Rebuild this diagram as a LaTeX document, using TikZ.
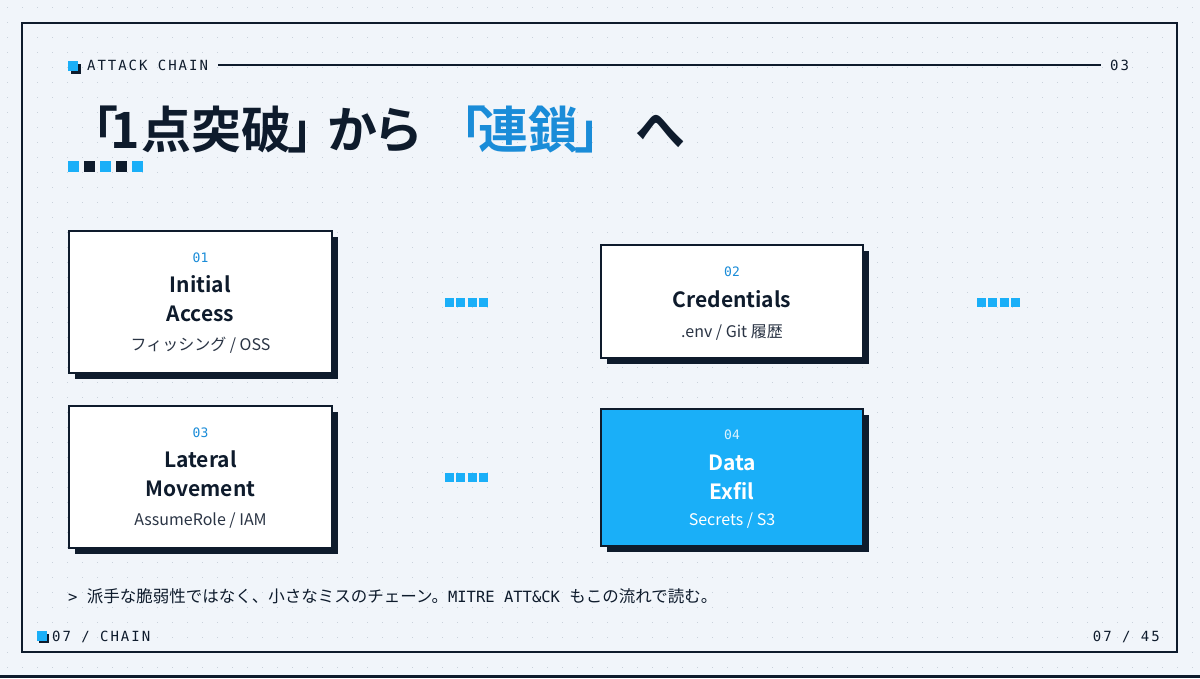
\documentclass[tikz,border=0pt]{standalone}
\usepackage{fontspec}
\setmainfont{Noto Sans CJK JP}[BoldFont={Noto Sans CJK JP Bold}]
\setmonofont{DejaVu Sans Mono}
\newfontfamily\monols{DejaVu Sans Mono}[LetterSpace=14]
\newfontfamily\titlefont{Noto Sans CJK JP Bold}[RawFeature=+palt]
\newfontfamily\cjk{Noto Sans CJK JP}
\usetikzlibrary{shadows}
\definecolor{navyc}{HTML}{0E1B2C}
\definecolor{accent}{HTML}{1AAFF8}
\definecolor{accentd}{HTML}{1A8CD8}
\definecolor{bgc}{HTML}{F1F5FA}
\definecolor{dotc}{HTML}{C9D1DB}
\definecolor{subc}{HTML}{2A3444}
\newcommand{\tch}[2]{\makebox[#1pt][l]{#2}}
\tikzset{
  stepbox/.style={draw=navyc, line width=2pt, fill=white, inner sep=0pt,
    drop shadow={shadow xshift=6pt, shadow yshift=-6pt, fill=navyc, opacity=1}},
  hotbox/.style={stepbox, fill=accent},
  numtxt/.style={anchor=base, inner sep=0pt, text=accentd, font=\ttfamily\fontsize{13}{15}\selectfont},
  headtxt/.style={anchor=base, inner sep=0pt, text=navyc, font=\bfseries\fontsize{21}{25}\selectfont},
  subtxt/.style={anchor=base, inner sep=0pt, text=subc, font=\fontsize{16}{19}\selectfont},
  chainlink/.style={draw=accent, line width=9pt, dash pattern=on 9pt off 2.33pt},
  labeltxt/.style={inner sep=0pt, text=navyc, font=\monols\fontsize{14}{16}\selectfont},
  sq/.style={inner sep=0pt, minimum size=11pt, draw=none}
}
\begin{document}
\begin{tikzpicture}[x=1pt,y=-1pt]
\useasboundingbox (0,0) rectangle (1200,678);
\fill[bgc] (0,0) rectangle (1200,678);
\foreach \i in {0,...,79}{
  \foreach \j in {0,...,44}{
    \fill[dotc] (6.8+15*\i,6.8+15*\j) rectangle +(1.5,1.5);
  }
}
\fill[navyc] (0,675) rectangle (1200,678);
% frame
\draw[navyc, line width=2pt] (22,23) rectangle (1177,652);

% header
\fill[navyc] (70.5,63.5) rectangle +(10,10);
\fill[accent] (68,61) rectangle +(10,10);
\node[labeltxt, anchor=base west] (hdr) at (87,70.7) {ATTACK CHAIN};
\node[labeltxt, anchor=base west] (pg) at (1110,70.7) {03};
\coordinate (hlA) at (218,65);
\coordinate (hlB) at (1101,65);
\draw[navyc, line width=1.8pt] (hlA) -- (hlB);

% title
\node[anchor=base west, inner sep=0pt, text=navyc, font=\titlefont\fontsize{50}{60}\selectfont] (title) at (93,148)
  {\tch{17}{「}\tch{31}{1}\tch{50}{点}\tch{50}{突}\tch{47}{破}\tch{39}{」}\tch{50}{か}\tch{84}{ら }%
   \textcolor{accentd}{\tch{17}{「}\tch{50}{連}\tch{47}{鎖}\tch{60}{」 }}へ};

% square row
\node[sq, fill=accent, anchor=north west] (s1) at (68,161) {};
\node[sq, fill=navyc, anchor=north west] (s2) at (84,161) {};
\node[sq, fill=accent, anchor=north west] (s3) at (100,161) {};
\node[sq, fill=navyc, anchor=north west] (s4) at (116,161) {};
\node[sq, fill=accent, anchor=north west] (s5) at (132,161) {};

% boxes
\node[stepbox, minimum width=263pt, minimum height=142pt] (b1) at (200.5,302) {};
\node[stepbox, minimum width=262pt, minimum height=113pt] (b2) at (732,301.5) {};
\node[stepbox, minimum width=263pt, minimum height=142pt] (b3) at (200.5,477) {};
\node[hotbox, minimum width=262pt, minimum height=137pt] (b4) at (732,477.5) {};

% box 1
\node[numtxt] (n1) at (200.5,262.3) {01};
\node[headtxt] (h1a) at (200.5,292.7) {Initial};
\node[headtxt] (h1b) at (200.5,321.7) {Access};
\node[subtxt] (t1) at (200.5,350.3) {フィッシング / OSS};
% box 2
\node[numtxt] (n2) at (732,276.7) {02};
\node[headtxt] (h2) at (732,307.3) {Credentials};
\node[subtxt] (t2) at (732,337.3) {.env / Git 履歴};
% box 3
\node[numtxt] (n3) at (200.5,437.3) {03};
\node[headtxt] (h3a) at (200.5,467.7) {Lateral};
\node[headtxt] (h3b) at (200.5,496.7) {Movement};
\node[subtxt] (t3) at (200.5,525.7) {AssumeRole / IAM};
% box 4
\node[numtxt, text=white!85!accent] (n4) at (732,439.3) {04};
\node[headtxt, text=white] (h4a) at (732,470) {Data};
\node[headtxt, text=white] (h4b) at (732,499) {Exfil};
\node[subtxt, text=white] (t4) at (732,525.7) {Secrets / S3};

% chain links
\coordinate (c1a) at (445,302);
\coordinate (c1b) at (488,302);
\coordinate (c2a) at (977,302);
\coordinate (c2b) at (1020,302);
\coordinate (c3a) at (445,477);
\coordinate (c3b) at (488,477);
\draw[chainlink] (c1a) -- (c1b);
\draw[chainlink] (c2a) -- (c2b);
\draw[chainlink] (c3a) -- (c3b);

% note
\node[anchor=base west, inner sep=0pt, text=navyc, font=\ttfamily\fontsize{15.5}{18}\selectfont] (note) at (68,602)
  {> {\cjk\fontsize{16.5}{18}\selectfont 派手な脆弱性ではなく、小さなミスのチェーン。}MITRE ATT\&CK {\cjk\fontsize{16.5}{18}\selectfont もこの流れで読む。}};

% footer
\fill[navyc] (39,633.5) rectangle +(9.5,9.5);
\fill[accent] (37,631) rectangle +(9.5,9.5);
\node[labeltxt, anchor=base west] (ft) at (52,641) {07 / CHAIN};
\node[labeltxt, anchor=base east] (fp) at (1160,641) {07 / 45};
\end{tikzpicture}
\end{document}
